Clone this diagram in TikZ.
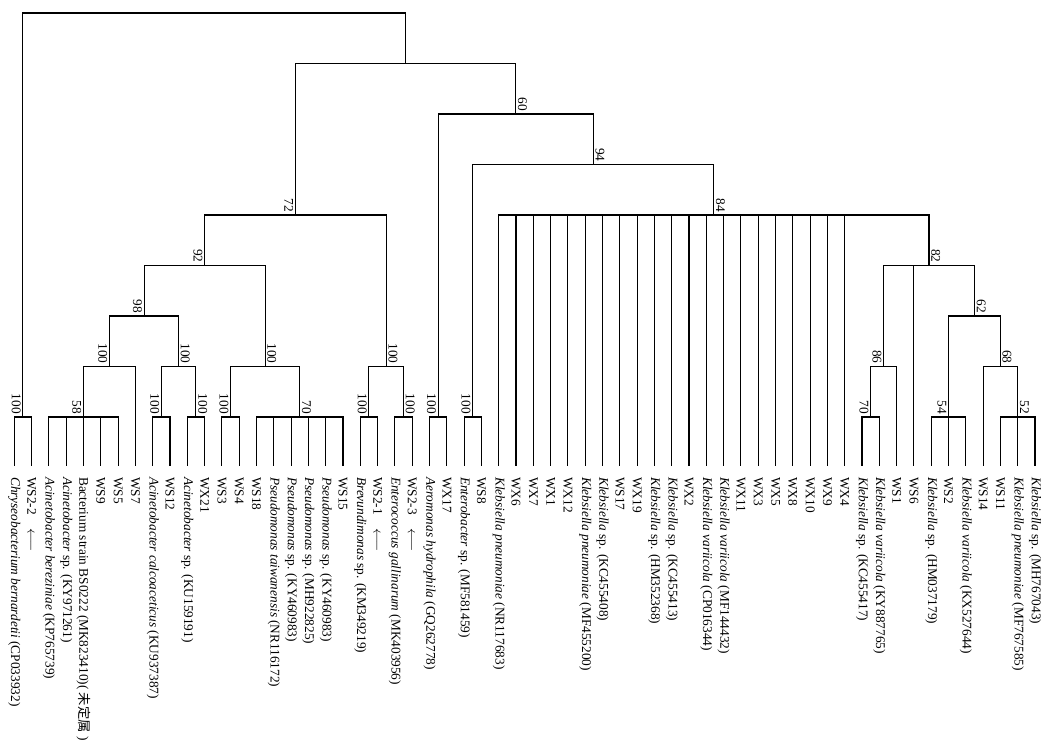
\documentclass[tikz,border=0pt]{standalone}
\usepackage{fontspec}
\setmainfont{Liberation Serif}
\newfontfamily\cjk{Noto Sans CJK SC}
\begin{document}
\begin{tikzpicture}[x=1pt,y=-1pt,
  br/.style={line width=1.05pt, black},
  leaf/.style={rotate=-90, anchor=west, inner sep=0pt, font=\fontsize{13.3}{15}\selectfont},
  bsl/.style={rotate=-90, anchor=north east, inner sep=1pt, font=\fontsize{13.3}{15}\selectfont},
  bsr/.style={rotate=-90, anchor=south east, inner sep=1pt, font=\fontsize{13.3}{15}\selectfont}]
\useasboundingbox (0,0) rectangle (1061,755);
% leaves
\foreach \i/\t in {
 0/{\textit{Chryseobacterium bernardetii} (CP033932)},
 1/{WS2-2\quad$\longleftarrow$},
 2/{\textit{Acinetobacter bereziniae} (KP765739)},
 3/{\textit{Acinetobacter} sp. (KY971261)},
 4/{Bacterium strain BS0222 (MK823410)( {\cjk 未定属} )},
 5/{WS9}, 6/{WS5}, 7/{WS7},
 8/{\textit{Acinetobacter calcoaceticus} (KU937387)},
 9/{WS12},
 10/{\textit{Acinetobacter} sp. (KU159191)},
 11/{WX21}, 12/{WS3}, 13/{WS4}, 14/{WS18},
 15/{\textit{Pseudomonas taiwanensis} (NR116172)},
 16/{\textit{Pseudomonas} sp. (KY460983)},
 17/{\textit{Pseudomonas} sp. (MH922825)},
 18/{\textit{Pseudomonas} sp. (KY460983)},
 19/{WS15},
 20/{\textit{Brevundimonas} sp. (KM349219)},
 21/{WS2-1\quad$\longleftarrow$},
 22/{\textit{Enterococcus gallinarum} (MK403956)},
 23/{WS2-3\quad$\longleftarrow$},
 24/{\textit{Aeromonas hydrophila} (GQ262778)},
 25/{WX17},
 26/{\textit{Enterobacter} sp. (MF581459)},
 27/{WS8},
 28/{\textit{Klebsiella pneumoniae} (NR117683)},
 29/{WX6}, 30/{WX7}, 31/{WX1}, 32/{WX12},
 33/{\textit{Klebsiella pneumoniae} (MF455200)},
 34/{\textit{Klebsiella} sp. (KC455408)},
 35/{WS17}, 36/{WX19},
 37/{\textit{Klebsiella} sp. (HM352368)},
 38/{\textit{Klebsiella} sp. (KC455413)},
 39/{WX2},
 40/{\textit{Klebsiella variicola} (CP016344)},
 41/{\textit{Klebsiella variicola} (MF144432)},
 42/{WX11}, 43/{WX3}, 44/{WX5}, 45/{WX8}, 46/{WX10}, 47/{WX9}, 48/{WX4},
 49/{\textit{Klebsiella} sp. (KC455417)},
 50/{\textit{Klebsiella variicola} (KY887765)},
 51/{WS1}, 52/{WS6},
 53/{\textit{Klebsiella} sp. (HM037179)},
 54/{WS2},
 55/{\textit{Klebsiella variicola} (KX527644)},
 56/{WS14}, 57/{WS11},
 58/{\textit{Klebsiella pneumoniae} (MF767585)},
 59/{\textit{Klebsiella} sp. (MH767043)}}
{
 \coordinate (e\i) at ({14.3+17.3*\i},466);
 \node[leaf] (l\i) at ({14.3+17.3*\i},477) {\t};
}
% internal nodes
\coordinate (n01) at (22.95,417);
\coordinate (n58) at (83.5,417);
\coordinate (n89) at (161.35,417);
\coordinate (n1011) at (195.95,417);
\coordinate (n1213) at (230.55,417);
\coordinate (n70a) at (299.75,417);
\coordinate (n2021) at (368.95,417);
\coordinate (n2223) at (403.55,417);
\coordinate (n2425) at (438.15,417);
\coordinate (n2627) at (472.75,417);
\coordinate (n70b) at (870.65,417);
\coordinate (n54) at (948.5,417);
\coordinate (n52) at (1017.7,417);
\coordinate (n100a) at (109.45,366.5);
\coordinate (n100b) at (178.65,366.5);
\coordinate (n100c) at (265.15,366.5);
\coordinate (n100d) at (386.25,366.5);
\coordinate (n86) at (883.6,366.5);
\coordinate (n68) at (1000.4,366.5);
\coordinate (n98) at (144.05,316);
\coordinate (n62) at (974.45,316);
\coordinate (n92) at (204.6,265.5);
\coordinate (n82) at (929.0,265.5);
\coordinate (n72) at (295.4,215);
\coordinate (n84) at (713.85,215);
\coordinate (n94) at (593.3,164.5);
\coordinate (n60) at (515.7,114);
\coordinate (nA) at (405.55,63.5);
\coordinate (root) at (214.25,13);
% branches
\draw[br] (root) -| (n01);  \draw[br] (root) -| (nA);
\draw[br] (nA) -| (n72);    \draw[br] (nA) -| (n60);
\draw[br] (n72) -| (n92);   \draw[br] (n72) -| (n100d);
\draw[br] (n92) -| (n98);   \draw[br] (n92) -| (n100c);
\draw[br] (n98) -| (n100a); \draw[br] (n98) -| (n100b);
\draw[br] (n100a) -| (n58); \draw[br] (n100a) -| (e7);
\foreach \k in {2,...,6} {\draw[br] (n58) -| (e\k);}
\draw[br] (n100b) -| (n89); \draw[br] (n100b) -| (n1011);
\draw[br] (n89) -| (e8);    \draw[br] (n89) -| (e9);
\draw[br] (n1011) -| (e10); \draw[br] (n1011) -| (e11);
\draw[br] (n100c) -| (n1213); \draw[br] (n100c) -| (n70a);
\draw[br] (n1213) -| (e12); \draw[br] (n1213) -| (e13);
\foreach \k in {14,...,19} {\draw[br] (n70a) -| (e\k);}
\draw[br] (n100d) -| (n2021); \draw[br] (n100d) -| (n2223);
\draw[br] (n2021) -| (e20); \draw[br] (n2021) -| (e21);
\draw[br] (n2223) -| (e22); \draw[br] (n2223) -| (e23);
\draw[br] (n01) -| (e0);    \draw[br] (n01) -| (e1);
\draw[br] (n60) -| (n2425); \draw[br] (n60) -| (n94);
\draw[br] (n2425) -| (e24); \draw[br] (n2425) -| (e25);
\draw[br] (n94) -| (n2627); \draw[br] (n94) -| (n84);
\draw[br] (n2627) -| (e26); \draw[br] (n2627) -| (e27);
\foreach \k in {28,...,48} {\draw[br] (n84) -| (e\k);}
\draw[br] (n84) -| (n82);
\draw[br] (n82) -| (n86); \draw[br] (n82) -| (e52); \draw[br] (n82) -| (n62);
\draw[br] (n86) -| (n70b); \draw[br] (n86) -| (e51);
\draw[br] (n70b) -| (e49); \draw[br] (n70b) -| (e50);
\draw[br] (n62) -| (n54); \draw[br] (n62) -| (n68);
\foreach \k in {53,54,55} {\draw[br] (n54) -| (e\k);}
\draw[br] (n68) -| (e56); \draw[br] (n68) -| (n52);
\foreach \k in {57,58,59} {\draw[br] (n52) -| (e\k);}
% bootstrap values
\node[bsl] (b01)   at ([xshift=-1pt,yshift=2pt]n01) {100};
\node[bsl] (b58)   at ([xshift=-1pt,yshift=2pt]n58) {58};
\node[bsl] (b100a) at ([xshift=-1pt,yshift=2pt]n100a) {100};
\node[bsl] (b98)   at ([xshift=-1pt,yshift=2pt]n98) {98};
\node[bsl] (b92)   at ([xshift=-1pt,yshift=2pt]n92) {92};
\node[bsl] (b72)   at ([xshift=-1pt,yshift=2pt]n72) {72};
\node[bsr] (b100b) at ([xshift=1pt,yshift=2pt]n100b) {100};
\node[bsl] (b89)   at ([xshift=-1pt,yshift=2pt]n89) {100};
\node[bsr] (b1011) at ([xshift=1pt,yshift=2pt]n1011) {100};
\node[bsr] (b100c) at ([xshift=1pt,yshift=2pt]n100c) {100};
\node[bsl] (b1213) at ([xshift=-1pt,yshift=2pt]n1213) {100};
\node[bsr] (b70a)  at ([xshift=1pt,yshift=2pt]n70a) {70};
\node[bsr] (b100d) at ([xshift=1pt,yshift=2pt]n100d) {100};
\node[bsl] (b2021) at ([xshift=-1pt,yshift=2pt]n2021) {100};
\node[bsr] (b2223) at ([xshift=1pt,yshift=2pt]n2223) {100};
\node[bsl] (b2425) at ([xshift=-1pt,yshift=2pt]n2425) {100};
\node[bsl] (b2627) at ([xshift=-1pt,yshift=2pt]n2627) {100};
\node[bsr] (b60)   at ([xshift=1pt,yshift=2pt]n60) {60};
\node[bsr] (b94)   at ([xshift=1pt,yshift=2pt]n94) {94};
\node[bsr] (b84)   at ([xshift=1pt,yshift=2pt]n84) {84};
\node[bsr] (b82)   at ([xshift=1pt,yshift=2pt]n82) {82};
\node[bsl] (b86)   at ([xshift=-1pt,yshift=2pt]n86) {86};
\node[bsl] (b70b)  at ([xshift=-1pt,yshift=2pt]n70b) {70};
\node[bsr] (b62)   at ([xshift=1pt,yshift=2pt]n62) {62};
\node[bsl] (b54)   at ([xshift=-1pt,yshift=2pt]n54) {54};
\node[bsr] (b68)   at ([xshift=1pt,yshift=2pt]n68) {68};
\node[bsr] (b52)   at ([xshift=1pt,yshift=2pt]n52) {52};
\end{tikzpicture}
\end{document}
